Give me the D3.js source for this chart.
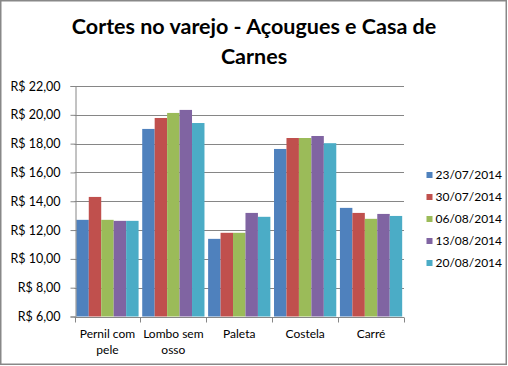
<!DOCTYPE html>
<html>
<head>
<meta charset="utf-8">
<script src="https://cdn.jsdelivr.net/npm/d3@7"></script>
<style>
  html, body { margin: 0; padding: 0; background: #fff; }
  svg { display: block; font-family: Lato, "Open Sans", sans-serif; }
</style>
</head>
<body>
<svg id="chart" width="508" height="366"></svg>
<script>
const titleLines = ["Cortes no varejo - Açougues e Casa de", "Carnes"];
const categories = ["Pernil com pele", "Lombo sem osso", "Paleta", "Costela", "Carré"];
const categoryLines = [["Pernil com", "pele"], ["Lombo sem", "osso"], ["Paleta"], ["Costela"], ["Carré"]];
const seriesNames = ["23/07/2014", "30/07/2014", "06/08/2014", "13/08/2014", "20/08/2014"];
const s1 = [12.71, 19.02, 11.39, 17.63, 13.54];
const s2 = [14.30, 19.78, 11.81, 18.39, 13.19];
const s3 = [12.71, 20.13, 11.81, 18.39, 12.78];
const s4 = [12.64, 20.34, 13.19, 18.53, 13.12];
const s5 = [12.64, 19.43, 12.92, 18.03, 12.98];
const seriesValues = [s1, s2, s3, s4, s5];
const colors = ["#4F81BD", "#C0504D", "#9BBB59", "#8064A2", "#4BACC6"];
const yTicks = [6, 8, 10, 12, 14, 16, 18, 20, 22];

const svg = d3.select("#chart");

svg.append("rect").attr("x", 0.75).attr("y", 0.75).attr("width", 505.5).attr("height", 363.5)
  .attr("fill", "#fff").attr("stroke", "#888").attr("stroke-width", 1.5);

const margin = { left: 74.5, right: 404, top: 86, bottom: 316.5 };

const x = d3.scaleBand().domain(categories).range([margin.left, margin.right]).paddingInner(0).paddingOuter(0);
const xIn = d3.scaleBand().domain(seriesNames).range([0, x.bandwidth()]).paddingOuter(0.146).paddingInner(0);
const y = d3.scaleLinear().domain([6, 22]).range([margin.bottom, margin.top]);

// gridlines
svg.append("g").selectAll("line").data(yTicks.slice(1)).join("line")
  .attr("x1", margin.left).attr("x2", margin.right)
  .attr("y1", d => Math.round(y(d)) + 0.5).attr("y2", d => Math.round(y(d)) + 0.5)
  .attr("stroke", "#868686").attr("stroke-width", 1);

// bars
const groups = svg.append("g").selectAll("g").data(categories).join("g")
  .attr("transform", d => `translate(${x(d)},0)`);
groups.selectAll("rect").data((c, ci) => seriesNames.map((s, si) => ({ s, si, v: seriesValues[si][ci] })))
  .join("rect")
  .attr("x", d => xIn(d.s)).attr("width", xIn.bandwidth())
  .attr("y", d => y(d.v)).attr("height", d => y(6) - y(d.v))
  .attr("fill", d => colors[d.si]);

// y axis
const yAxis = d3.axisLeft(y).tickValues(yTicks).tickSize(5).tickPadding(10)
  .tickFormat(d => "R$ " + d3.format(".2f")(d).replace(".", ","));
const gy = svg.append("g").attr("transform", `translate(${Math.round(margin.left) + 0.5},0)`).call(yAxis);
gy.select(".domain").attr("stroke", "#868686");
gy.selectAll(".tick line").attr("stroke", "#868686");
gy.selectAll(".tick text").attr("font-size", 12.5).attr("fill", "#000").attr("font-family", "Lato, sans-serif");

// x axis
const gx = svg.append("g").attr("transform", `translate(0,${Math.round(margin.bottom) + 0.5})`);
gx.append("line").attr("x1", margin.left).attr("x2", margin.right).attr("stroke", "#868686");
const edges = categories.map(c => x(c)).concat([x(categories[categories.length - 1]) + x.bandwidth()]);
gx.selectAll(".tk").data(edges).join("line").attr("class", "tk")
  .attr("x1", d => Math.round(d) + 0.5).attr("x2", d => Math.round(d) + 0.5)
  .attr("y1", 0).attr("y2", 5).attr("stroke", "#868686");
const xl = svg.append("g").selectAll("text").data(categories).join("text")
  .attr("x", d => x(d) + x.bandwidth() / 2).attr("y", 337.5)
  .attr("text-anchor", "middle").attr("font-size", 12).attr("fill", "#000");
xl.each(function (d, i) {
  const t = d3.select(this);
  categoryLines[i].forEach((ln, k) => {
    t.append("tspan").attr("x", x(d) + x.bandwidth() / 2).attr("dy", k === 0 ? 0 : 16.5).text(ln);
  });
});

// legend
const leg = svg.append("g").selectAll("g").data(seriesNames).join("g")
  .attr("transform", (d, i) => `translate(426.5,${175 + i * 22})`);
leg.append("rect").attr("x", 0).attr("y", -3).attr("width", 6).attr("height", 6)
  .attr("fill", (d, i) => colors[i]);
leg.append("text").attr("x", 9).attr("y", 0).attr("dy", "0.35em")
  .attr("font-size", 12).attr("fill", "#000").text(d => d);

// title
svg.append("g").selectAll("text").data(titleLines).join("text")
  .attr("x", 254).attr("y", (d, i) => 34 + i * 29.5)
  .attr("text-anchor", "middle").attr("font-size", 21.5).attr("font-weight", "bold")
  .attr("fill", "#000").text(d => d);
</script>
</body>
</html>
